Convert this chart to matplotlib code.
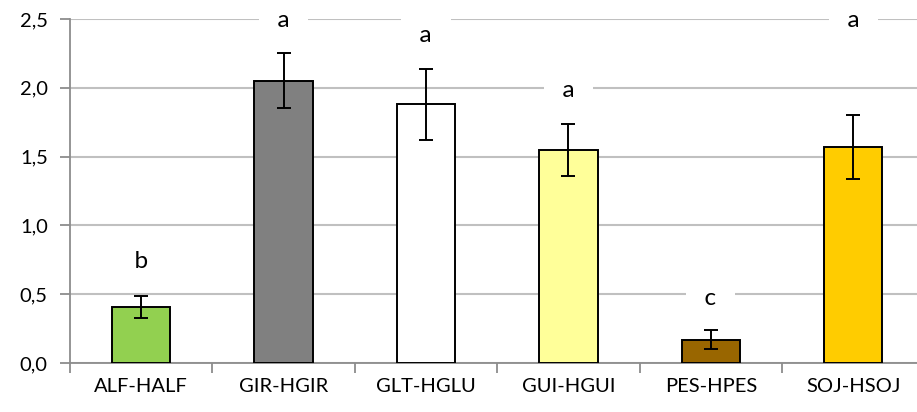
import matplotlib
matplotlib.use("Agg")
import matplotlib.pyplot as plt
import numpy as np

# chart values
categories = ["ALF-HALF", "GIR-HGIR", "GLT-HGLU", "GUI-HGUI", "PES-HPES", "SOJ-HSOJ"]
means = [0.41, 2.05, 1.88, 1.55, 0.17, 1.57]
errors = [0.08, 0.20, 0.26, 0.19, 0.07, 0.23]
letters = ["b", "a", "a", "a", "c", "a"]
letter_y = [0.74, 2.49, 2.38, 1.98, 0.47, 2.49]
bar_colors = ["#92D050", "#808080", "#FFFFFF", "#FFFF99", "#996600", "#FFCC00"]

plt.rcParams['font.family'] = ['Lato', 'DejaVu Sans']

fig = plt.figure(figsize=(9.17, 4.12), dpi=100)
ax = fig.add_axes([70 / 917, 1 - 363 / 412, 847 / 917, 344 / 412])

x = np.arange(len(categories))
ax.bar(x, means, width=0.41, color=bar_colors, edgecolor="black", linewidth=1.4,
       zorder=3)
ax.errorbar(x, means, yerr=errors, fmt="none", ecolor="black", elinewidth=1.4,
            capsize=5, capthick=1.4, zorder=6)

# letters sit on a white box that cuts the gridlines, as in the original
for xi, lab, ly in zip(x, letters, letter_y):
    ax.text(xi, ly, f"  {lab}  ", ha="center", va="center", fontsize=17.5,
            zorder=5, bbox=dict(facecolor="white", edgecolor="none",
                                boxstyle="square,pad=0.25"))

ax.set_xlim(-0.5, 5.448)
ax.set_ylim(0, 2.5)
ax.set_yticks(np.arange(0, 2.51, 0.5))
ax.set_yticklabels([f"{v:.1f}".replace(".", ",") for v in np.arange(0, 2.51, 0.5)])
ax.yaxis.grid(True, color="#C0C0C0", linewidth=1.5, zorder=0)
ax.set_axisbelow(True)

ax.set_xticks(x)
ax.set_xticklabels(categories)
ax.tick_params(axis="x", length=0, pad=11, labelsize=14.5)
ax.set_xticks(np.arange(-0.5, 5.5, 1.0), minor=True)
ax.tick_params(axis="x", which="minor", length=7, width=1.3, color="#8C8C8C",
               direction="out")
ax.tick_params(axis="y", length=7, width=1.3, color="#8C8C8C", pad=9,
               labelsize=14.5)

for side in ["top", "right"]:
    ax.spines[side].set_visible(False)
for side in ["left", "bottom"]:
    ax.spines[side].set_color("#8C8C8C")
    ax.spines[side].set_linewidth(1.3)

fig.savefig("out.png", dpi=100)
